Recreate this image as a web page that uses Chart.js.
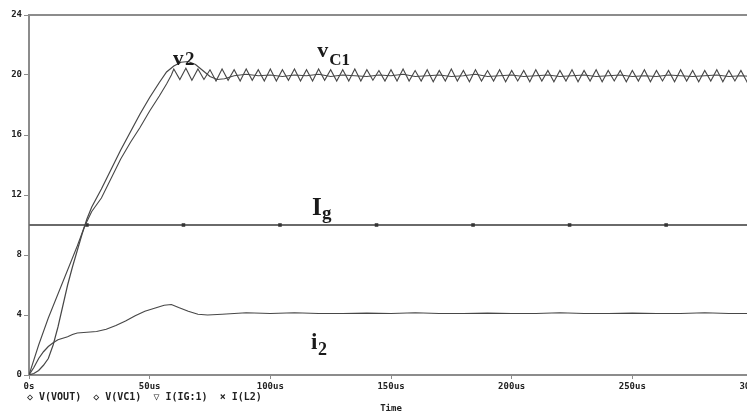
<!DOCTYPE html>
<html>
<head>
<meta charset="utf-8">
<script src="https://cdn.jsdelivr.net/npm/chart.js@4/dist/chart.umd.min.js"></script>
<style>
    html, body { margin: 0; padding: 0; background: #fff; overflow: hidden; }
    #wrap { width: 747px; height: 414px; overflow: hidden; position: relative; }
    canvas { display: block; }
</style>
</head>
<body>
<div id="wrap"><canvas id="chart" width="760" height="414"></canvas></div>
<script>
// time in us, values in V / A
const yTicks = [0, 4, 8, 12, 16, 20, 24];
const xTicks = [0, 50, 100, 150, 200, 250, 300];

// v2 : slow start, overshoot, then settles at ~20
const v2Times = [0, 2, 4, 6, 8, 10, 12, 14, 16, 18, 20, 22, 24, 26, 28, 30, 34, 38, 42, 46, 50, 54, 57, 60, 63, 66, 69, 72, 75, 78, 81, 85, 90,
    95, 100, 105, 110, 115, 120, 125, 130, 135, 140, 145, 150, 155, 160, 165, 170, 175, 180, 185, 190, 195, 200,
    205, 210, 215, 220, 225, 230, 235, 240, 245, 250, 255, 260, 265, 270, 275, 280, 285, 290, 295, 300];
const v2Values = [0, 0.1, 0.3, 0.65, 1.1, 2.0, 3.2, 4.6, 6.0, 7.2, 8.3, 9.4, 10.4, 11.2, 11.8, 12.4, 13.7, 15.0, 16.2, 17.4, 18.5, 19.5, 20.2, 20.6, 20.85, 20.9, 20.7, 20.3, 19.9, 19.7, 19.75, 19.95, 20.05,
    19.95, 20.0, 19.9, 20.0, 19.95, 20.05, 19.9, 20.0, 19.95, 19.9, 20.0, 19.95, 20.05, 19.9, 19.95, 20.0, 19.9, 19.95, 20.05, 19.9,
    19.95, 20.0, 19.9, 19.95, 20.0, 19.9, 19.95, 20.0, 19.9, 19.95, 20.0, 19.9, 19.95, 19.9, 20.0, 19.95, 19.9, 19.95, 20.0, 19.9,
    19.95, 19.9];

// vC1 : near-linear rise then triangular ripple around 20
const vc1Times = [0, 2, 4, 6, 8, 10, 12, 14, 16, 18, 20, 23, 26, 30, 34, 38, 42, 46, 50, 54, 57, 59,
    60, 62.5, 65, 67.5, 70, 72.5, 75, 77.5, 80, 82.5,
    85, 87.5, 90, 92.5, 95, 97.5, 100, 102.5, 105, 107.5,
    110, 112.5, 115, 117.5, 120, 122.5, 125, 127.5, 130, 132.5,
    135, 137.5, 140, 142.5, 145, 147.5, 150, 152.5, 155, 157.5,
    160, 162.5, 165, 167.5, 170, 172.5, 175, 177.5, 180, 182.5,
    185, 187.5, 190, 192.5, 195, 197.5, 200, 202.5, 205, 207.5,
    210, 212.5, 215, 217.5, 220, 222.5, 225, 227.5, 230, 232.5,
    235, 237.5, 240, 242.5, 245, 247.5, 250, 252.5, 255, 257.5,
    260, 262.5, 265, 267.5, 270, 272.5, 275, 277.5, 280, 282.5,
    285, 287.5, 290, 292.5, 295, 297.5, 300];
const vc1Values = [0, 1.0, 2.0, 2.9, 3.8, 4.6, 5.4, 6.2, 7.0, 7.8, 8.6, 9.9, 10.9, 11.8, 13.1, 14.4, 15.5, 16.5, 17.6, 18.6, 19.4, 20.0,
    20.4, 19.7, 20.45, 19.65, 20.4, 19.7, 20.35, 19.6, 20.4, 19.65,
    20.35, 19.6, 20.4, 19.65, 20.35, 19.6, 20.4, 19.6, 20.35, 19.65,
    20.4, 19.6, 20.35, 19.6, 20.4, 19.65, 20.35, 19.6, 20.35, 19.6,
    20.4, 19.6, 20.35, 19.65, 20.3, 19.6, 20.35, 19.6, 20.4, 19.6,
    20.3, 19.6, 20.35, 19.55, 20.3, 19.6, 20.4, 19.6, 20.3, 19.55,
    20.35, 19.6, 20.3, 19.6, 20.35, 19.55, 20.3, 19.6, 20.3, 19.55,
    20.35, 19.6, 20.3, 19.55, 20.3, 19.6, 20.35, 19.55, 20.3, 19.6,
    20.35, 19.55, 20.3, 19.6, 20.3, 19.55, 20.3, 19.6, 20.35, 19.55,
    20.3, 19.6, 20.3, 19.55, 20.35, 19.6, 20.3, 19.55, 20.3, 19.6,
    20.35, 19.55, 20.3, 19.6, 20.3, 19.55, 20.3];

// Ig : constant source current
const igTimes = [0, 24, 64, 104, 144, 184, 224, 264, 300];
const igValues = [10, 10, 10, 10, 10, 10, 10, 10, 10];

// i2 : inductor current
const i2Times = [0, 2, 4, 6, 8, 10, 12, 14, 16, 18, 20, 24, 28, 32, 36, 40, 44, 48, 52, 56, 59, 62, 66, 70, 74, 80, 85, 90,
    100, 110, 120, 130, 140, 150, 160, 170, 180, 190, 200, 210, 220, 230, 240, 250, 260, 270, 280, 290, 300];
const i2Values = [0, 0.5, 1.1, 1.55, 1.9, 2.15, 2.35, 2.45, 2.55, 2.7, 2.8, 2.85, 2.9, 3.05, 3.3, 3.6, 3.95, 4.25, 4.45, 4.65, 4.7, 4.5, 4.25, 4.05, 4.0, 4.05, 4.1, 4.15,
    4.1, 4.15, 4.1, 4.1, 4.12, 4.1, 4.15, 4.1, 4.1, 4.12, 4.1, 4.1, 4.15, 4.1, 4.1, 4.12, 4.1, 4.1, 4.15, 4.1, 4.1];

const legendText = '\u25c7 V(VOUT)  \u25c7 V(VC1)  \u25bd I(IG:1)  \u00d7 I(L2)';

const toPoints = (times, values) => times.map((t, i) => ({ x: t, y: values[i] }));

const LINE_COLOR = '#474747';
const AXIS_COLOR = '#8c8c8c';
const TICK_FONT = { family: 'DejaVu Sans Mono', size: 9, weight: 'bold' };

const traceLabels = {
    id: 'traceLabels',
    afterDatasetsDraw(chart) {
        const { ctx, chartArea, scales } = chart;
        const xs = scales.x;
        const ys = scales.y;
        ctx.save();

        // top frame line
        ctx.strokeStyle = AXIS_COLOR;
        ctx.lineWidth = 2;
        ctx.beginPath();
        ctx.moveTo(chartArea.left, ys.getPixelForValue(24));
        ctx.lineTo(chartArea.right + 10, ys.getPixelForValue(24));
        ctx.stroke();

        ctx.fillStyle = '#1a1a1a';
        ctx.textBaseline = 'alphabetic';
        ctx.textAlign = 'left';
        const serif = 'bold %spx "Liberation Serif", "DejaVu Serif", serif';
        const font = (size) => serif.replace('%s', size);

        // v2
        ctx.font = font(21);
        ctx.fillText('v', xs.getPixelForValue(59.7), ys.getPixelForValue(20.67));
        ctx.font = font(19);
        ctx.fillText('2', xs.getPixelForValue(59.7) + 12, ys.getPixelForValue(20.67));

        // vC1
        ctx.font = font(22);
        ctx.fillText('v', xs.getPixelForValue(119.4), ys.getPixelForValue(21.2));
        ctx.font = font(17);
        ctx.fillText('C1', xs.getPixelForValue(119.4) + 12, ys.getPixelForValue(20.67));

        // Ig
        ctx.font = font(25);
        ctx.fillText('I', xs.getPixelForValue(117.3), ys.getPixelForValue(10.67));
        ctx.font = font(19);
        ctx.fillText('g', xs.getPixelForValue(117.3) + 10, ys.getPixelForValue(10.4));

        // i2
        ctx.font = font(23);
        ctx.fillText('i', xs.getPixelForValue(116.9), ys.getPixelForValue(1.73));
        ctx.font = font(18);
        ctx.fillText('2', xs.getPixelForValue(116.9) + 7, ys.getPixelForValue(1.35));

        // PSpice trace legend
        ctx.font = 'bold 10px "DejaVu Sans Mono", monospace';
        ctx.fillStyle = '#222';
        ctx.fillText(legendText, 27, 400);

        ctx.restore();
    },
};

const ctx = document.getElementById('chart').getContext('2d');

new Chart(ctx, {
    type: 'line',
    data: {
        datasets: [
            {
                label: 'V(VOUT)',
                data: toPoints(v2Times, v2Values),
                borderColor: LINE_COLOR,
                borderWidth: 1.2,
                pointRadius: 0,
            },
            {
                label: 'V(VC1)',
                data: toPoints(vc1Times, vc1Values),
                borderColor: LINE_COLOR,
                borderWidth: 1.1,
                pointRadius: 0,
            },
            {
                label: 'I(IG:1)',
                data: toPoints(igTimes, igValues),
                borderColor: '#6a6a6a',
                borderWidth: 2,
                pointStyle: 'rect',
                pointRadius: (c) => (c.dataIndex > 0 && c.dataIndex < igTimes.length - 1 ? 2.5 : 0),
                pointBackgroundColor: '#333',
                pointBorderWidth: 0,
            },
            {
                label: 'I(L2)',
                data: toPoints(i2Times, i2Values),
                borderColor: LINE_COLOR,
                borderWidth: 1.2,
                pointRadius: 0,
            },
        ],
    },
    options: {
        responsive: false,
        animation: false,
        devicePixelRatio: 1,
        layout: {
            padding: { top: 15, right: 7, left: 0, bottom: 0 },
        },
        plugins: {
            legend: { display: false },
            tooltip: { enabled: false },
        },
        scales: {
            x: {
                type: 'linear',
                min: 0,
                max: 300,
                afterBuildTicks: (scale) => {
                    scale.ticks = xTicks.map((v) => ({ value: v }));
                },
                afterFit: (scale) => {
                    scale.height = 39;
                    scale.paddingLeft = 0;
                    scale.paddingRight = 0;
                },
                ticks: {
                    color: '#222',
                    font: TICK_FONT,
                    padding: 2,
                    maxRotation: 0,
                    autoSkip: false,
                    callback: (v) => (v === 0 ? '0s' : v + 'us'),
                },
                grid: {
                    display: true,
                    drawOnChartArea: false,
                    drawTicks: true,
                    tickLength: 4,
                    color: AXIS_COLOR,
                },
                border: { display: true, color: AXIS_COLOR, width: 2 },
                title: {
                    display: true,
                    text: 'Time',
                    color: '#222',
                    font: TICK_FONT,
                    padding: { top: 0, bottom: 0 },
                },
            },
            y: {
                min: 0,
                max: 24,
                afterBuildTicks: (scale) => {
                    scale.ticks = yTicks.map((v) => ({ value: v }));
                },
                afterFit: (scale) => {
                    scale.width = 29;
                },
                ticks: {
                    color: '#222',
                    font: TICK_FONT,
                    padding: 2,
                },
                grid: {
                    display: true,
                    drawOnChartArea: false,
                    drawTicks: true,
                    tickLength: 5,
                    color: AXIS_COLOR,
                },
                border: { display: true, color: AXIS_COLOR, width: 2 },
            },
        },
    },
    plugins: [traceLabels],
});
</script>
</body>
</html>
